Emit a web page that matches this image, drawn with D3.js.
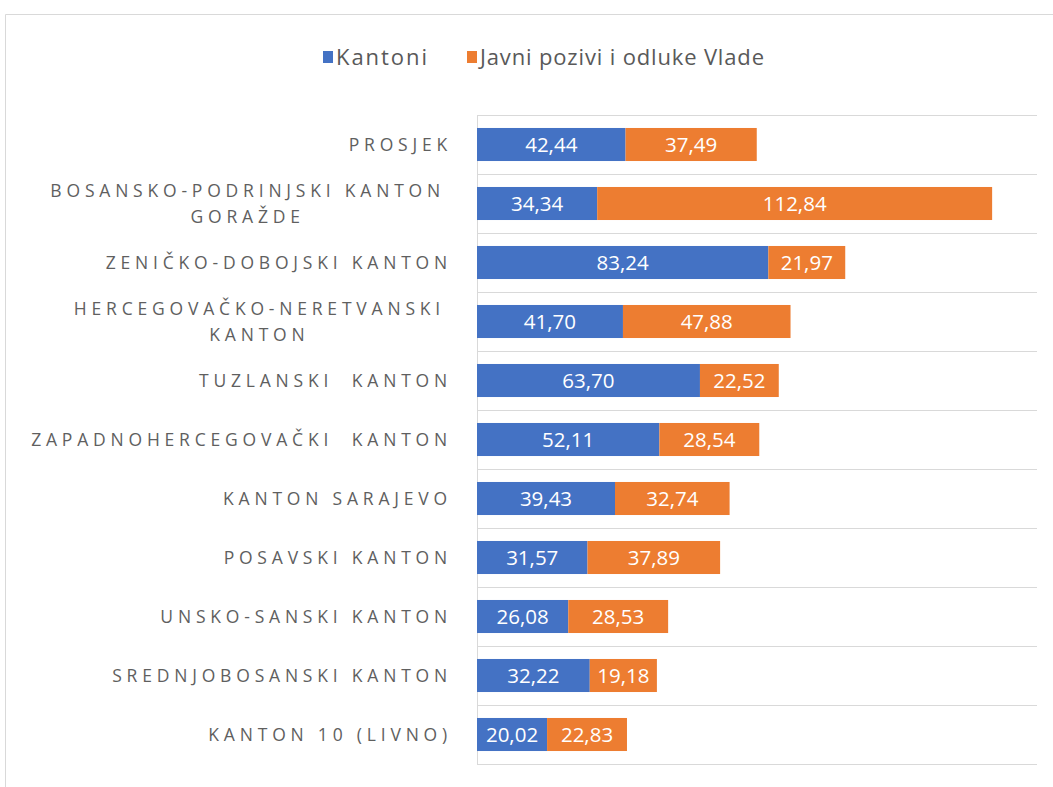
<!DOCTYPE html>
<html>
<head>
<meta charset="utf-8">
<script src="https://cdn.jsdelivr.net/npm/d3@7"></script>
<style>
  body { margin: 0; background: #fff; }
  svg text { font-family: "Open Sans", sans-serif; }
</style>
</head>
<body>
<div id="chart"></div>
<script>
(function(){

  // categories, one array of lines per label
  var categories = [
    ['PROSJEK'],
    ['BOSANSKO-PODRINJSKI KANTON', 'GORAŽDE'],
    ['ZENIČKO-DOBOJSKI KANTON'],
    ['HERCEGOVAČKO-NERETVANSKI', 'KANTON'],
    ['TUZLANSKI  KANTON'],
    ['ZAPADNOHERCEGOVAČKI  KANTON'],
    ['KANTON SARAJEVO'],
    ['POSAVSKI KANTON'],
    ['UNSKO-SANSKI KANTON'],
    ['SREDNJOBOSANSKI KANTON'],
    ['KANTON 10 (LIVNO)']
  ];
  var kantoni = [42.44, 34.34, 83.24, 41.70, 63.70, 52.11, 39.43, 31.57, 26.08, 32.22, 20.02];
  var javni   = [37.49, 112.84, 21.97, 47.88, 22.52, 28.54, 32.74, 37.89, 28.53, 19.18, 22.83];
  var seriesNames = ['Kantoni', 'Javni pozivi i odluke Vlade'];
  var colors = ['#4472c4', '#ed7d31'];

  var W = 1053, H = 787;
  var margin = { top: 115, right: 16, bottom: 23, left: 477 };
  var width = W - margin.left - margin.right;
  var height = H - margin.top - margin.bottom;

  var fmt = d3.formatLocale({ decimal: ',', thousands: '.', grouping: [3], currency: ['', ''] }).format('.2f');

  var rows = categories.map(function(c, i){ return { idx: i, lines: c, k: kantoni[i], j: javni[i] }; });
  var stack = d3.stack().keys(['k', 'j'])(rows);

  var x = d3.scaleLinear().domain([0, 160]).range([0, width]);
  var y = d3.scaleBand().domain(d3.range(categories.length)).range([0, height]).paddingInner(0.44).paddingOuter(0.22);

  var svg = d3.select('#chart').append('svg')
      .attr('width', W)
      .attr('height', H);

  // chart border (only top and left show in frame)
  svg.append('path')
    .attr('d', 'M5.5,' + H + 'V14.5H' + W)
    .attr('fill', 'none')
    .attr('stroke', '#d9d9d9');

  // legend
  var legend = svg.append('g').attr('class', 'legend');
  var legendX = [323, 467];
  var legendFont = [22, 21];
  seriesNames.forEach(function(n, i){
    legend.append('rect')
      .attr('x', legendX[i]).attr('y', 51)
      .attr('width', 10).attr('height', 12)
      .attr('fill', colors[i]);
    legend.append('text')
      .attr('x', legendX[i] + 13).attr('y', 65)
      .attr('fill', '#595959')
      .attr('textLength', i === 0 ? 91 : 284)
      .style('font-size', '22px')
      .text(n);
  });

  var g = svg.append('g')
      .attr('transform', 'translate(' + margin.left + ',' + margin.top + ')');

  // gridlines between categories
  g.selectAll('line.grid')
    .data(d3.range(categories.length + 1))
    .enter().append('line')
      .attr('class', 'grid')
      .attr('x1', 0).attr('x2', width)
      .attr('y1', function(d){ return Math.round(d * height / categories.length) + 0.5; })
      .attr('y2', function(d){ return Math.round(d * height / categories.length) + 0.5; })
      .attr('stroke', '#d9d9d9');

  g.append('line')
    .attr('x1', 0.5).attr('x2', 0.5)
    .attr('y1', 0).attr('y2', height)
    .attr('stroke', '#d9d9d9');

  // bars
  var layers = g.selectAll('g.layer')
    .data(stack)
    .enter().append('g')
      .attr('class', 'layer')
      .attr('fill', function(d, i){ return colors[i]; });

  layers.selectAll('rect')
    .data(function(d){ return d; })
    .enter().append('rect')
      .attr('x', function(d){ return x(d[0]); })
      .attr('y', function(d){ return y(d.data.idx); })
      .attr('width', function(d){ return x(d[1]) - x(d[0]); })
      .attr('height', y.bandwidth());

  layers.selectAll('text')
    .data(function(d){ return d; })
    .enter().append('text')
      .attr('x', function(d){ return (x(d[0]) + x(d[1])) / 2; })
      .attr('y', function(d){ return y(d.data.idx) + y.bandwidth() / 2; })
      .attr('dy', '0.36em')
      .attr('text-anchor', 'middle')
      .attr('fill', '#fff')
      .style('font-size', '20.5px')
      .text(function(d){ return fmt(d[1] - d[0]); });

  // category labels, letter spaced; two-line labels centred on the first line
  var labels = svg.append('g').attr('class', 'labels');
  var labelRight = 452;
  rows.forEach(function(r){
    var cy = margin.top + y(r.idx) + y.bandwidth() / 2;
    var t = labels.append('text')
      .attr('fill', '#5f5f5f')
      .style('font-size', '17.5px')
      .style('letter-spacing', '4.8px')
      .style('white-space', 'pre');
    if (r.lines.length === 1) {
      t.attr('x', labelRight).attr('y', cy).attr('dy', '0.36em')
        .attr('text-anchor', 'end').text(r.lines[0]);
    } else {
      var right = labelRight - 7;
      var first = t.append('tspan').attr('x', right).attr('y', cy - 13).attr('dy', '0.36em')
        .attr('text-anchor', 'end').text(r.lines[0]);
      var w = first.node().getComputedTextLength();
      t.append('tspan').attr('x', right - w / 2).attr('y', cy + 13).attr('dy', '0.36em')
        .attr('text-anchor', 'middle').text(r.lines[1]);
    }
  });

})();
</script>
</body>
</html>
